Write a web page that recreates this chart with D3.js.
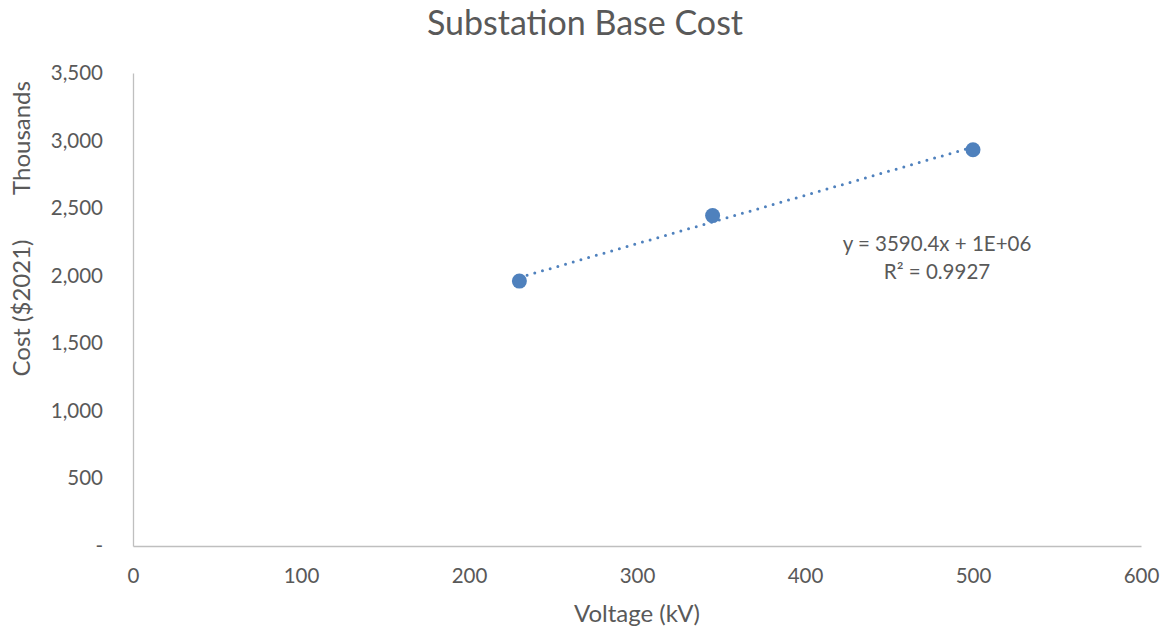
<!DOCTYPE html>
<html><head><meta charset="utf-8">
<script src="https://cdn.jsdelivr.net/npm/d3@7"></script>
<style>body{margin:0;background:#fff;}svg{display:block;font-family:Lato,"Open Sans",sans-serif;}</style>
</head><body><svg id="c" width="1166" height="631"></svg>
<script>
const voltage = [230, 345, 500];
const cost = [1960, 2445, 2932];
const xTicks = [0, 100, 200, 300, 400, 500, 600];
const yTicks = [0, 500, 1000, 1500, 2000, 2500, 3000, 3500];
const title = "Substation Base Cost";
const xTitle = "Voltage (kV)";
const yTitle = "Cost ($2021)";
const yUnit = "Thousands";
const eqText = ["y = 3590.4x + 1E+06", "R² = 0.9927"];

const svg = d3.select("#c");
const L = 133, R = 1141, T = 73, B = 546;
const x = d3.scaleLinear().domain([0, 600]).range([L, R]);
const y = d3.scaleLinear().domain([0, 3500]).range([B, T]);
const txt = "#595959", axc = "#bfbfbf", col = "#4f81bd";

svg.append("text").attr("x", 585).attr("y", 35).attr("text-anchor", "middle")
  .attr("font-size", 34).attr("fill", txt).text(title);

const fmt = d => d === 0 ? "-" : d3.format(",")(d);
const ya = svg.append("g").attr("transform", `translate(${L},0)`)
  .call(d3.axisLeft(y).tickValues(yTicks).tickSize(0).tickPadding(30).tickFormat(fmt));
ya.select(".domain").attr("stroke", axc).attr("stroke-width", 1.3);
ya.selectAll("text").attr("fill", txt).attr("font-size", 20.5).attr("font-family", "Lato");

const xa = svg.append("g").attr("transform", `translate(0,${B})`)
  .call(d3.axisBottom(x).tickValues(xTicks).tickSize(0).tickPadding(22));
xa.select(".domain").attr("stroke", axc).attr("stroke-width", 1.3);
xa.selectAll("text").attr("fill", txt).attr("font-size", 20.5).attr("font-family", "Lato");

svg.append("text").attr("x", 637).attr("y", 622).attr("text-anchor", "middle")
  .attr("font-size", 24).attr("fill", txt).text(xTitle);
svg.append("text").attr("transform", "translate(30,308) rotate(-90)").attr("text-anchor", "middle")
  .attr("font-size", 24).attr("fill", txt).text(yTitle);
svg.append("text").attr("transform", "translate(30,138) rotate(-90)").attr("text-anchor", "middle")
  .attr("font-size", 24).attr("fill", txt).text(yUnit);

// linear trendline (least squares)
const n = voltage.length;
const mx = d3.mean(voltage), my = d3.mean(cost);
let sxy = 0, sxx = 0;
for (let i = 0; i < n; i++) { sxy += (voltage[i]-mx)*(cost[i]-my); sxx += (voltage[i]-mx)**2; }
const slope = sxy / sxx, icpt = my - slope * mx;
const x0 = d3.min(voltage), x1 = d3.max(voltage);
svg.append("line")
  .attr("x1", x(x0)).attr("y1", y(icpt + slope*x0))
  .attr("x2", x(x1)).attr("y2", y(icpt + slope*x1))
  .attr("stroke", col).attr("stroke-width", 3).attr("stroke-linecap", "round")
  .attr("stroke-dasharray", "0,8");

svg.selectAll("circle.pt").data(voltage).enter().append("circle")
  .attr("cx", d => x(d)).attr("cy", (d, i) => y(cost[i])).attr("r", 7.5).attr("fill", col);

eqText.forEach((t, i) => svg.append("text").attr("x", 937).attr("y", 251 + i*28)
  .attr("text-anchor", "middle").attr("font-size", 20.5).attr("fill", txt).text(t));
</script></body></html>
